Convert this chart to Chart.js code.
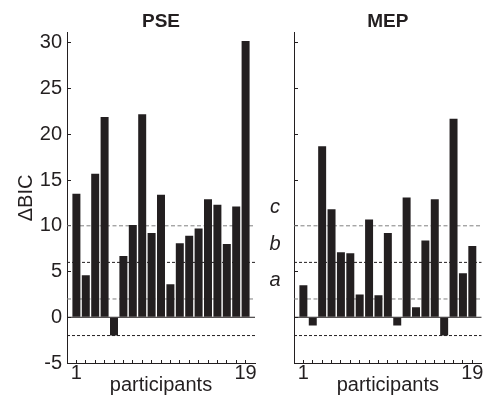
<!DOCTYPE html>
<html>
<head>
<meta charset="utf-8">
<script src="https://cdn.jsdelivr.net/npm/chart.js@4.4.1/dist/chart.umd.min.js"></script>
<style>
  body { margin: 0; background: #fff; }
  #wrap { position: relative; width: 487px; height: 397px; }
  canvas { position: absolute; top: 0; }
  #pseChart { left: 0; }
  #mepChart { left: 260px; }
</style>
</head>
<body>
<div id="wrap">
  <canvas id="pseChart" width="260" height="397"></canvas>
  <canvas id="mepChart" width="227" height="397"></canvas>
</div>
<script>
// data
const participants = [1, 2, 3, 4, 5, 6, 7, 8, 9, 10, 11, 12, 13, 14, 15, 16, 17, 18, 19];
const pseValues = [13.5, 4.6, 15.7, 21.9, -2.0, 6.7, 10.1, 22.2, 9.2, 13.4, 3.6, 8.1, 8.9, 9.7, 12.9, 12.3, 8.0, 12.1, 30.2];
const mepValues = [3.5, -0.9, 18.7, 11.8, 7.1, 7.0, 2.5, 10.7, 2.4, 9.2, -0.9, 13.1, 1.1, 8.4, 12.9, -2.0, 21.7, 4.8, 7.8];
const yTicks = [-5, 0, 5, 10, 15, 20, 25, 30];
const xLabelled = [1, 19];
const grayLevels = [10, 2];
const blackLevels = [6, -2];
const zeroLevel = [0];
const letters = ['c', 'b', 'a'];
const letterLevels = [12, 8, 4];

const ink = '#231f20';
Chart.defaults.font.family = '"Liberation Sans", Arial, Helvetica, sans-serif';
Chart.defaults.color = ink;

function hline(level, color, dash) {
    return {
        type: 'line',
        data: [{ x: 0, y: level }, { x: 20, y: level }],
        borderColor: color,
        borderWidth: 1,
        borderDash: dash,
        pointRadius: 0,
        order: 2
    };
}

// c / b / a letters beside the MEP axis
const letterPlugin = {
    id: 'letters',
    afterDraw(chart) {
        const ctx = chart.ctx;
        const y = chart.scales.y;
        ctx.save();
        ctx.font = 'italic 20px "Liberation Sans", Arial, sans-serif';
        ctx.fillStyle = ink;
        ctx.textAlign = 'center';
        ctx.textBaseline = 'middle';
        letters.forEach((t, i) => ctx.fillText(t, 15, y.getPixelForValue(letterLevels[i])));
        ctx.restore();
    }
};

function makeChart(id, title, values, axisWidth, rightPad, showYLabels, plugins) {
    const datasets = [{
        type: 'bar',
        data: participants.map((p, i) => ({ x: p, y: values[i] })),
        backgroundColor: ink,
        borderWidth: 0,
        barPercentage: 0.85,
        categoryPercentage: 1,
        order: 0
    }];
    grayLevels.forEach(l => datasets.push(hline(l, '#808080', [4, 2.5])));
    blackLevels.forEach(l => datasets.push(hline(l, ink, [3, 2])));
    zeroLevel.forEach(l => datasets.push(hline(l, ink, [])));

    return new Chart(document.getElementById(id), {
        type: 'bar',
        data: { datasets: datasets },
        plugins: plugins,
        options: {
            responsive: false,
            animation: false,
            devicePixelRatio: 1,
            layout: { padding: { top: 0, right: rightPad, bottom: 0, left: 0 } },
            plugins: {
                legend: { display: false },
                tooltip: { enabled: false },
                title: {
                    display: true,
                    text: title,
                    fullSize: false,
                    color: ink,
                    font: { size: 19, weight: 'bold' },
                    padding: { top: 10, bottom: 0 }
                }
            },
            scales: {
                x: {
                    type: 'linear',
                    min: 0,
                    max: 20,
                    offset: false,
                    afterBuildTicks: s => { s.ticks = participants.map(v => ({ value: v })); },
                    afterFit: s => { s.height = 34; },
                    grid: { drawOnChartArea: false, offset: false, tickLength: -3, color: ink },
                    border: { display: true, color: ink },
                    ticks: {
                        autoSkip: false,
                        maxRotation: 0,
                        padding: 1,
                        font: { size: 20 },
                        color: ink,
                        callback: v => xLabelled.includes(v) ? String(v) : ''
                    },
                    title: {
                        display: true,
                        text: 'participants',
                        font: { size: 20 },
                        color: ink,
                        padding: { top: 0, bottom: 0 }
                    }
                },
                y: {
                    min: -5,
                    max: 31.1,
                    afterBuildTicks: s => { s.ticks = yTicks.map(v => ({ value: v })); },
                    afterFit: s => { s.width = axisWidth; },
                    grid: { drawOnChartArea: false, tickLength: -4, color: ink },
                    border: { display: true, color: ink },
                    ticks: {
                        padding: 9,
                        font: { size: 20 },
                        color: ink,
                        callback: v => showYLabels ? String(v) : ''
                    },
                    title: {
                        display: showYLabels,
                        text: 'ΔBIC',
                        font: { size: 20 },
                        color: ink,
                        padding: { top: 14, bottom: 0 }
                    }
                }
            }
        }
    });
}

makeChart('pseChart', 'PSE', pseValues, 67, 5, true, []);
makeChart('mepChart', 'MEP', mepValues, 34, 5.3, false, [letterPlugin]);
</script>
</body>
</html>
